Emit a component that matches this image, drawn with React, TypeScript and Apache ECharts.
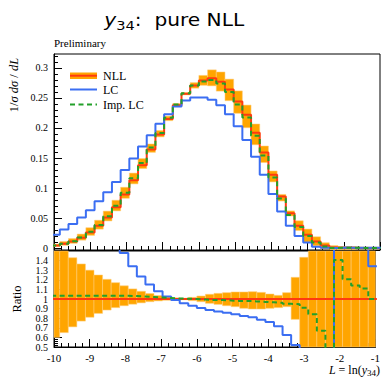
import React, { useEffect, useRef } from "react";
import * as echarts from "echarts";

// Histogram bin edges in L = ln(y34) (bins of 0.24, outer ones cut by the axis range)
const binEdges = [
  -10.08, -9.84, -9.6, -9.36, -9.12, -8.88, -8.64, -8.4, -8.16, -7.92, -7.68, -7.44, -7.2,
  -6.96, -6.72, -6.48, -6.24, -6.0, -5.76, -5.52, -5.28, -5.04, -4.8, -4.56, -4.32, -4.08,
  -3.84, -3.6, -3.36, -3.12, -2.88, -2.64, -2.4, -2.16, -1.92, -1.68, -1.44, -1.2, -0.96,
];

// 1/sigma dsigma/dL per bin
const nll = [
  0.004, 0.007, 0.011, 0.017, 0.026, 0.037, 0.051, 0.068, 0.089, 0.113, 0.138, 0.164, 0.189,
  0.215, 0.238, 0.257, 0.271, 0.279, 0.283, 0.277, 0.264, 0.244, 0.222, 0.192, 0.159, 0.122,
  0.086, 0.058, 0.037, 0.022, 0.011, 0.004, 0.0008, 0.0003, 0.0003, 0.0002, 0.0002, 0.0002,
];
const lc = [
  0.022, 0.031, 0.04, 0.051, 0.063, 0.078, 0.093, 0.11, 0.13, 0.149, 0.169, 0.188, 0.207,
  0.223, 0.236, 0.246, 0.251, 0.251, 0.247, 0.238, 0.223, 0.203, 0.18, 0.152, 0.122, 0.09,
  0.061, 0.037, 0.02, 0.009, 0.002, 0.0005, 0, 0.0007, 0.0006, 0.0004, 0.0003, 0.0003,
];
const impLc = [
  0.0041, 0.0072, 0.0114, 0.0176, 0.0269, 0.0383, 0.0528, 0.0704, 0.0921, 0.1164, 0.1415,
  0.1673, 0.1918, 0.2172, 0.2392, 0.2578, 0.271, 0.2776, 0.2802, 0.2742, 0.26, 0.2391, 0.2176,
  0.1872, 0.1542, 0.1177, 0.0826, 0.0551, 0.035, 0.02, 0.0092, 0.0027, 0.0002, 0.0004, 0.0004,
  0.0002, 0.0002, 0.0002,
];

// NLL uncertainty band, relative to the NLL central value
const nllBandHigh = [
  1.62, 1.55, 1.43, 1.365, 1.3, 1.25, 1.205, 1.17, 1.137, 1.105, 1.08, 1.057, 1.036, 1.022,
  1.012, 1.008, 1.017, 1.031, 1.049, 1.059, 1.066, 1.073, 1.073, 1.076, 1.069, 1.052, 1.038,
  1.066, 1.226, 1.434, 1.7, 2.2, 5, 8, 8, 8, 8, 8,
];
const nllBandLow = [
  0.6, 0.65, 0.71, 0.77, 0.81, 0.85, 0.885, 0.91, 0.93, 0.946, 0.96, 0.972, 0.98, 0.987, 0.992,
  0.993, 0.983, 0.972, 0.955, 0.944, 0.93, 0.92, 0.903, 0.896, 0.896, 0.903, 0.91, 0.92, 0.788,
  0.45, 0.35, -0.3, -3, -8, -8, -8, -8, -8,
];

// Ratios to NLL
const lcRatio = [
  5.5, 4.4, 3.6, 3.0, 2.4, 2.1, 1.82, 1.62, 1.48, 1.34, 1.235, 1.15, 1.08, 1.025, 0.99, 0.955,
  0.93, 0.905, 0.885, 0.87, 0.858, 0.84, 0.823, 0.81, 0.785, 0.76, 0.715, 0.625, 0.52, 0.41,
  0.18, 0.12, 0, 2.3, 2.0, 1.9, 1.7, 1.34,
];
const impLcRatio = [
  1.035, 1.035, 1.035, 1.035, 1.035, 1.035, 1.035, 1.035, 1.035, 1.03, 1.025, 1.02, 1.015, 1.01,
  1.005, 1.003, 1.0, 0.995, 0.99, 0.99, 0.985, 0.98, 0.98, 0.975, 0.97, 0.965, 0.96, 0.95,
  0.945, 0.91, 0.84, 0.67, 0.25, 1.405, 1.205, 1.14, 1.11, 1.0,
];

const upperTickValues = [0, 0.05, 0.1, 0.15, 0.2, 0.25, 0.3];
// ratio labels, split over two label rows so the tightly packed texts are all kept
const ratioLabelsA = [0.5, 0.7, 0.9, 1.1, 1.3];
const ratioLabelsB = [0.6, 0.8, 1, 1.2, 1.4];
const legendLabels = ["NLL", "LC", "Imp. LC"];

const ORANGE = "#ffa500";
const RED = "#ff3a10";
const BLUE = "#3b6ef2";
const GREEN = "#23a02a";
const SERIF = "'Liberation Serif', 'Times New Roman', serif";
const SANS = "'DejaVu Sans', sans-serif";

const X_MIN = -10;
const X_MAX = -1;
const Y_MIN = -0.00333;
const Y_MAX = 0.32333;

function stepPoints(values: number[]): number[][] {
  const pts: number[][] = [];
  values.forEach((v, i) => {
    pts.push([binEdges[i], v], [binEdges[i + 1], v]);
  });
  return pts;
}

function bandRows(center: number[] | null): number[][] {
  return nllBandLow.map((lo, i) => {
    const c = center ? center[i] : 1;
    return [binEdges[i], binEdges[i + 1], c * lo, c * nllBandHigh[i]];
  });
}

function renderBand(params: any, api: any) {
  const x0 = api.value(0);
  const x1 = api.value(1);
  const lo = api.value(2);
  const hi = api.value(3);
  const p0 = api.coord([x0, hi]);
  const p1 = api.coord([x1, lo]);
  const cs = params.coordSys;
  const shape = echarts.graphic.clipRectByRect(
    { x: p0[0], y: p0[1], width: p1[0] - p0[0], height: p1[1] - p0[1] },
    { x: cs.x, y: cs.y, width: cs.width, height: cs.height }
  );
  if (!shape) return null;
  return {
    type: "rect",
    shape,
    style: { fill: ORANGE, stroke: "rgba(255,205,120,0.9)", lineWidth: 0.6 },
  };
}

// minor ticks every 0.01 between the labelled 0.05 steps
function upperMinorValues(): number[] {
  const out: number[] = [];
  for (let k = 1; k <= 32; k++) {
    if (k % 5 !== 0) out.push(k / 100);
  }
  return out;
}

function buildOption(): any {
  const tickStyle = { color: "#000", width: 1 };
  const labelFont = { fontFamily: SERIF, fontSize: 10, color: "#000" };
  const ratioFormatter = (v: number) => String(Math.round(v * 10) / 10);

  const lineSeries = (name: string, data: number[][], color: string, xi: number, dashed = false) => ({
    type: "line",
    name,
    xAxisIndex: xi,
    yAxisIndex: xi === 0 ? 0 : 2,
    data,
    showSymbol: false,
    symbol: "none",
    clip: true,
    silent: true,
    lineStyle: { color, width: 2, type: dashed ? [5, 3.5] : "solid" },
    z: 3,
  });

  return {
    animation: false,
    backgroundColor: "#fff",
    grid: [
      { left: 54, top: 54, width: 326, height: 196, show: true, borderColor: "#000", borderWidth: 1 },
      { left: 54, top: 251, width: 326, height: 96, show: true, borderColor: "#000", borderWidth: 1 },
    ],
    xAxis: [
      {
        gridIndex: 0,
        type: "value",
        min: X_MIN,
        max: X_MAX,
        interval: 1,
        axisLine: { show: true, onZero: false, lineStyle: tickStyle },
        axisTick: { show: true, inside: true, length: 8, lineStyle: tickStyle },
        minorTick: { show: true, splitNumber: 5, length: 4, lineStyle: tickStyle },
        axisLabel: { show: false },
        splitLine: { show: false },
      },
      {
        gridIndex: 1,
        type: "value",
        min: X_MIN,
        max: X_MAX,
        interval: 1,
        axisLine: { show: true, onZero: false, lineStyle: tickStyle },
        axisTick: { show: true, inside: true, length: 8, lineStyle: tickStyle },
        minorTick: { show: true, splitNumber: 5, length: 4, lineStyle: tickStyle },
        axisLabel: { show: true, margin: 5, showMinLabel: true, showMaxLabel: true, ...labelFont, fontSize: 11 },
        splitLine: { show: false },
      },
    ],
    yAxis: [
      {
        gridIndex: 0,
        type: "value",
        position: "left",
        min: Y_MIN,
        max: Y_MAX,
        axisLine: { show: true, onZero: false, lineStyle: tickStyle },
        axisTick: { show: true, inside: true, length: 8, lineStyle: tickStyle, customValues: upperTickValues },
        axisLabel: {
          show: true,
          margin: 6,
          showMinLabel: true,
          showMaxLabel: true,
          customValues: upperTickValues,
          formatter: (v: number) => String(Math.round(v * 100) / 100),
          ...labelFont,
        },
        splitLine: { show: false },
      },
      {
        gridIndex: 0,
        type: "value",
        position: "left",
        offset: 0,
        min: Y_MIN,
        max: Y_MAX,
        axisLine: { show: false },
        axisTick: { show: true, inside: true, length: 4, lineStyle: tickStyle, customValues: upperMinorValues() },
        axisLabel: { show: false },
        splitLine: { show: false },
      },
      {
        gridIndex: 1,
        type: "value",
        position: "left",
        min: 0.5,
        max: 1.5,
        interval: 0.1,
        axisLine: { show: true, onZero: false, lineStyle: tickStyle },
        axisTick: { show: true, inside: true, length: 8, lineStyle: tickStyle },
        minorTick: { show: true, splitNumber: 5, length: 4, lineStyle: tickStyle },
        axisLabel: {
          show: true,
          margin: 6,
          showMinLabel: true,
          showMaxLabel: true,
          customValues: ratioLabelsA,
          formatter: ratioFormatter,
          ...labelFont,
        },
        splitLine: { show: false },
      },
      {
        gridIndex: 1,
        type: "value",
        position: "left",
        offset: 0,
        min: 0.5,
        max: 1.5,
        axisLine: { show: false },
        axisTick: { show: false },
        axisLabel: {
          show: true,
          margin: 6,
          showMinLabel: true,
          showMaxLabel: true,
          customValues: ratioLabelsB,
          formatter: ratioFormatter,
          ...labelFont,
        },
        splitLine: { show: false },
      },
    ],
    series: [
      {
        type: "custom",
        name: "NLL band",
        xAxisIndex: 0,
        yAxisIndex: 0,
        renderItem: renderBand,
        data: bandRows(nll),
        encode: { x: [0, 1], y: [2, 3] },
        silent: true,
        z: 1,
      },
      lineSeries("NLL", stepPoints(nll), RED, 0),
      lineSeries("LC", stepPoints(lc), BLUE, 0),
      lineSeries("Imp. LC", stepPoints(impLc), GREEN, 0, true),
      {
        type: "custom",
        name: "NLL band ratio",
        xAxisIndex: 1,
        yAxisIndex: 2,
        renderItem: renderBand,
        data: bandRows(null),
        encode: { x: [0, 1], y: [2, 3] },
        silent: true,
        z: 1,
      },
      lineSeries("NLL ratio", [[binEdges[0], 1], [binEdges[binEdges.length - 1], 1]], RED, 1),
      lineSeries("LC ratio", stepPoints(lcRatio), BLUE, 1),
      lineSeries("Imp. LC ratio", stepPoints(impLcRatio), GREEN, 1, true),
    ],
    graphic: [
      {
        type: "text",
        x: 198,
        y: 20,
        scaleX: 1.12,
        originX: 198,
        style: {
          text: "{i|y}{s|34}:  pure NLL",
          font: `18px ${SANS}`,
          fill: "#000",
          align: "center",
          verticalAlign: "middle",
          rich: {
            i: { fontFamily: SANS, fontSize: 18, fontStyle: "italic", fill: "#000" },
            s: { fontFamily: SANS, fontSize: 13, fill: "#000", padding: [10, 0, 0, 0] },
          },
        },
      },
      {
        type: "text",
        x: 54,
        y: 43,
        style: { text: "Preliminary", font: `11px ${SERIF}`, fill: "#000", verticalAlign: "middle" },
      },
      {
        type: "text",
        x: 14,
        y: 85,
        rotation: Math.PI / 2,
        style: {
          text: "1/{i|σ dσ} / {i|dL}",
          font: `12.5px ${SERIF}`,
          fill: "#000",
          align: "center",
          verticalAlign: "middle",
          rich: { i: { fontFamily: SERIF, fontSize: 12.5, fontStyle: "italic", fill: "#000" } },
        },
      },
      {
        type: "text",
        x: 17,
        y: 299,
        rotation: Math.PI / 2,
        style: { text: "Ratio", font: `12.5px ${SERIF}`, fill: "#000", align: "center", verticalAlign: "middle" },
      },
      {
        type: "text",
        x: 380,
        y: 370,
        style: {
          text: "{i|L} = ln({i|y}{s|34})",
          font: `12px ${SERIF}`,
          fill: "#000",
          align: "right",
          verticalAlign: "middle",
          rich: {
            i: { fontFamily: SERIF, fontSize: 12, fontStyle: "italic", fill: "#000" },
            s: { fontFamily: SERIF, fontSize: 9, fill: "#000", padding: [6, 0, 0, 0] },
          },
        },
      },
      // legend
      { type: "rect", shape: { x: 70, y: 72.5, width: 27, height: 6.5 }, style: { fill: ORANGE } },
      { type: "line", shape: { x1: 70, y1: 75.7, x2: 97, y2: 75.7 }, style: { stroke: RED, lineWidth: 2 } },
      { type: "line", shape: { x1: 70, y1: 89.5, x2: 97, y2: 89.5 }, style: { stroke: BLUE, lineWidth: 2 } },
      {
        type: "line",
        shape: { x1: 70, y1: 104.5, x2: 97, y2: 104.5 },
        style: { stroke: GREEN, lineWidth: 2, lineDash: [5, 3.5] },
      },
      ...legendLabels.map((t, i) => ({
        type: "text",
        x: 103,
        y: [75.5, 89.5, 104.5][i],
        style: { text: t, font: `12px ${SERIF}`, fill: "#000", verticalAlign: "middle" },
      })),
    ],
  };
}

export default function App() {
  const ref = useRef<HTMLDivElement>(null);
  useEffect(() => {
    if (!ref.current) return;
    const chart = echarts.init(ref.current, null, { renderer: "svg" });
    chart.setOption(buildOption());
    return () => chart.dispose();
  }, []);
  return (
    <div
      ref={ref}
      style={{ position: "fixed", left: 0, top: 0, width: 383, height: 377, background: "#fff" }}
    />
  );
}
